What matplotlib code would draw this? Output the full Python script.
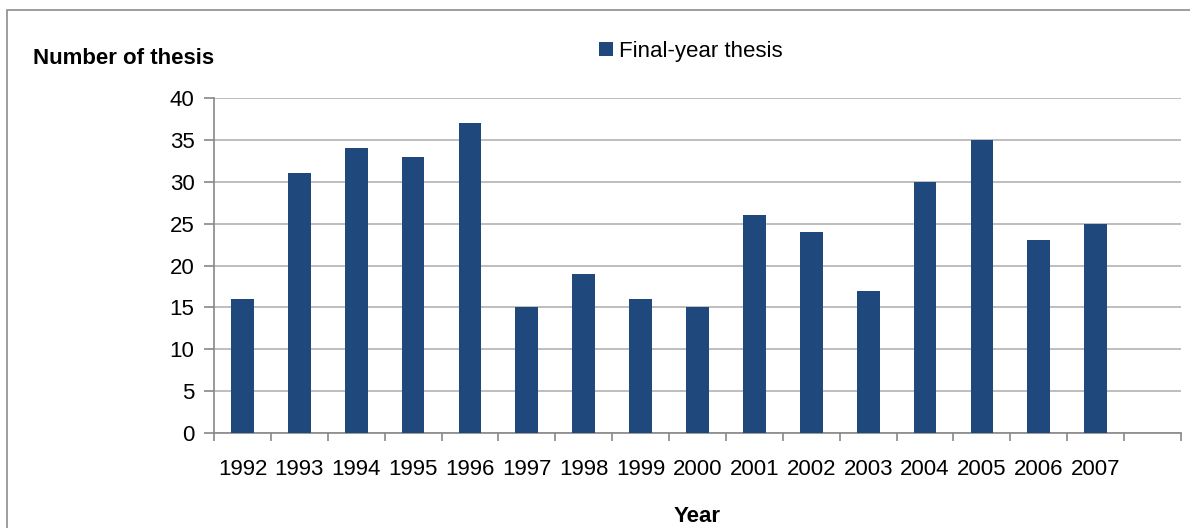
import matplotlib.pyplot as plt
import numpy as np
from matplotlib.patches import Rectangle

plt.rcParams['font.family'] = ['Liberation Sans', 'DejaVu Sans']

years = ["1992", "1993", "1994", "1995", "1996", "1997", "1998", "1999",
         "2000", "2001", "2002", "2003", "2004", "2005", "2006", "2007"]
theses = [16, 31, 34, 33, 37, 15, 19, 16, 15, 26, 24, 17, 30, 35, 23, 25]
y_ticks = [0, 5, 10, 15, 20, 25, 30, 35, 40]

W, H = 1190, 528
fs = 16
fig = plt.figure(figsize=(W / 100, H / 100), dpi=100)

# outer chart frame (cropped at right/bottom)
fig.patches.append(Rectangle((7 / W, -0.1), 1.2, 1 - 10 / H + 0.1,
                             transform=fig.transFigure, fill=False,
                             edgecolor='#8c8c8c', linewidth=1.2))

ax = fig.add_axes([214 / W, 1 - 433 / H, (1181 - 214) / W, (433 - 98) / H])

x = np.arange(len(years))
ax.bar(x, theses, width=0.4, color='#1F497D', label='Final-year thesis', zorder=3)

ax.set_xlim(-0.5, len(years) + 0.5)
ax.set_ylim(0, 40)
ax.set_yticks(y_ticks)
ax.grid(axis='y', color='#b3b3b3', linewidth=1.2, zorder=0)

# tick marks between categories, labels at centers
ax.set_xticks(np.arange(-0.5, len(years) + 1, 1))
ax.set_xticklabels([])
ax.set_xticks(x, minor=True)
ax.set_xticklabels(years, minor=True)
ax.tick_params(axis='x', which='major', length=6, color='#888888', width=1.2)
ax.tick_params(axis='x', which='minor', length=0, pad=19, labelsize=fs)
ax.tick_params(axis='y', length=7, color='#888888', width=1.2, labelsize=fs, pad=7)

for s in ['top', 'right']:
    ax.spines[s].set_visible(False)
for s in ['left', 'bottom']:
    ax.spines[s].set_color('#888888')
    ax.spines[s].set_linewidth(1.2)

fig.text(33 / W, 1 - 59 / H, "Number of thesis", fontsize=fs,
         fontweight='bold', va='center', ha='left')
fig.text(697 / W, 1 - 516 / H, "Year", fontsize=fs,
         fontweight='bold', va='center', ha='center')

ax.legend(loc='center', bbox_to_anchor=(691 / W, 1 - 51 / H),
          bbox_transform=fig.transFigure, frameon=False, fontsize=fs,
          handlelength=0.6, handleheight=0.6, handletextpad=0.3)

fig.savefig("out.png", dpi=100)
